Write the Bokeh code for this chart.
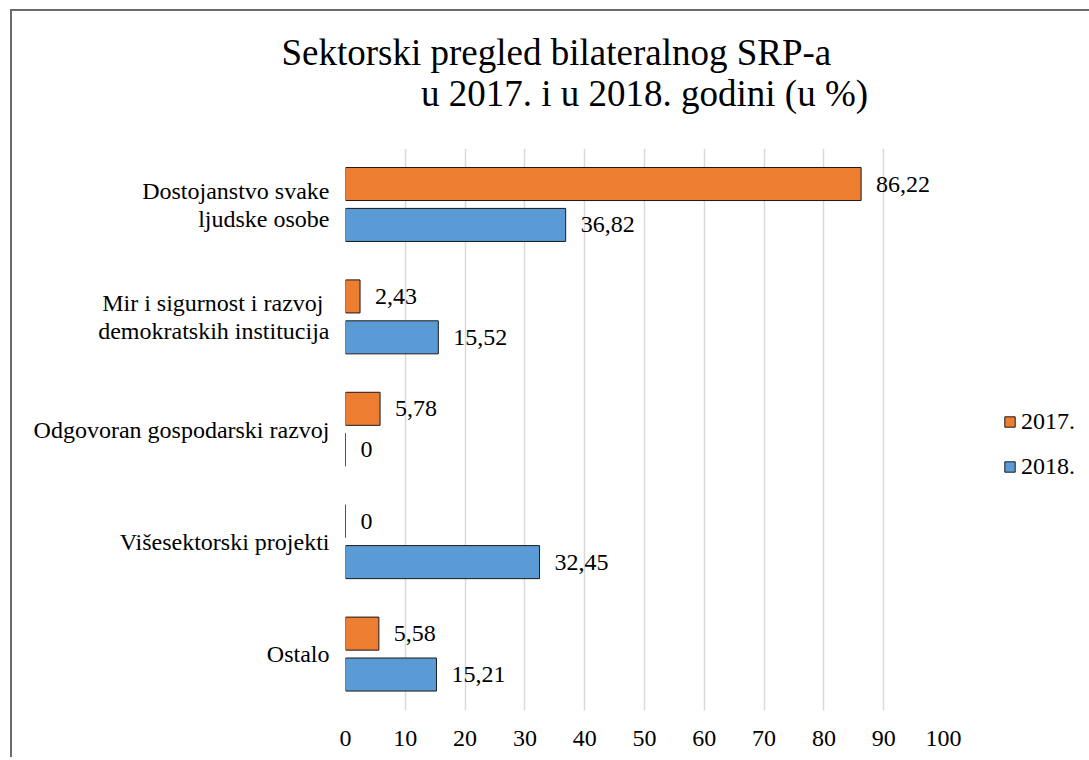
from bokeh.plotting import figure
from bokeh.models import (ColumnDataSource, FactorRange, Legend, LegendItem, LabelSet, Title,
                          FixedTicker, LinearAxis)
from bokeh.core.properties import value
from bokeh.transform import dodge
from bokeh.embed import file_html
from bokeh.resources import INLINE

categories = ["Dostojanstvo svake\nljudske osobe",
              "Mir i sigurnost i razvoj \ndemokratskih institucija",
              "Odgovoran gospodarski razvoj",
              "Višesektorski projekti",
              "Ostalo"]
values_2017 = [86.22, 2.43, 5.78, 0, 5.58]
values_2018 = [36.82, 15.52, 0, 32.45, 15.21]
series_names = ["2017.", "2018."]
x_ticks = [0, 10, 20, 30, 40, 50, 60, 70, 80, 90, 100]
title_lines = ["Sektorski pregled bilateralnog SRP-a", "u 2017. i u 2018. godini (u %)"]

FONT = "Liberation Serif"
ORANGE = "#ED7D31"
BLUE = "#5B9BD5"


def fmt(v):
    return ("%g" % v).replace(".", ",")


src = ColumnDataSource(dict(
    cat=categories,
    v2017=values_2017,
    v2018=values_2018,
    t2017=[fmt(v) for v in values_2017],
    t2018=[fmt(v) for v in values_2018],
))

p = figure(y_range=FactorRange(*reversed(categories), range_padding=0),
           x_range=(0, 100),
           frame_width=598, frame_height=562,
           min_border_left=333, min_border_top=137, min_border_bottom=47,
           min_border_right=144,
           output_backend="svg", toolbar_location=None)
p.margin = (9, 0, 0, 10)
p.styles = {"border-left": "2px solid #6b6b6b", "border-top": "2px solid #6b6b6b"}
p.outline_line_color = None
p.background_fill_color = "white"
p.border_fill_color = "white"

r1 = p.hbar(y=dodge("cat", 0.184, range=p.y_range), left=0, right="v2017", height=0.294,
            source=src, fill_color=ORANGE, line_color="#1a1a1a", line_width=1)
r2 = p.hbar(y=dodge("cat", -0.18, range=p.y_range), left=0, right="v2018", height=0.294,
            source=src, fill_color=BLUE, line_color="#1a1a1a", line_width=1)

for col, txt, off in (("v2017", "t2017", 0.184), ("v2018", "t2018", -0.18)):
    ls = LabelSet(x=col, y=dodge("cat", off, range=p.y_range), text=txt, source=src,
                  x_offset=15, text_baseline="middle", text_align="left",
                  text_font=value(FONT), text_font_size=value("24px"),
                  text_color="#000000")
    p.add_layout(ls)

p.xaxis.ticker = FixedTicker(ticks=x_ticks)
p.xaxis.axis_line_color = None
p.xaxis.major_tick_line_color = None
p.xaxis.minor_tick_line_color = None
p.xaxis.major_label_text_font = FONT
p.xaxis.major_label_text_font_size = "24px"
p.xaxis.major_label_text_color = "#000000"
p.xaxis.major_label_standoff = 14

p.yaxis.axis_line_color = None
p.yaxis.major_tick_line_color = None
p.yaxis.minor_tick_line_color = None
p.yaxis.major_label_text_font = FONT
p.yaxis.major_label_text_font_size = "24px"
p.yaxis.major_label_text_color = "#000000"
p.yaxis.major_label_text_line_height = 1.09
p.yaxis.major_label_standoff = 10

p.xgrid.grid_line_color = "#d9d9d9"
p.xgrid.grid_line_width = 1.5
p.xgrid.ticker = FixedTicker(ticks=x_ticks)
p.ygrid.grid_line_color = None

# second title line: label of an empty axis placed above the frame
top_axis = LinearAxis(ticker=FixedTicker(ticks=[]), axis_label=title_lines[1],
                      axis_label_standoff=35, axis_label_text_font=FONT,
                      axis_label_text_font_size="37px", axis_label_text_font_style="normal",
                      axis_label_text_color="#000000",
                      axis_line_color=None, major_tick_line_color=None,
                      minor_tick_line_color=None, major_tick_out=0, major_tick_in=0,
                      minor_tick_out=0, minor_tick_in=0, major_label_standoff=0)
p.add_layout(top_axis, "above")

# first title line
p.add_layout(Title(text=title_lines[0], align="left", offset=-64, standoff=-6,
                   text_font=FONT, text_font_size="37px", text_font_style="normal",
                   text_color="#000000"), "above")

legend = Legend(items=[LegendItem(label=series_names[0], renderers=[r1]),
                       LegendItem(label=series_names[1], renderers=[r2])],
                location=(60, 230), orientation="vertical")
legend.border_line_color = None
legend.background_fill_alpha = 0
legend.label_text_font = FONT
legend.label_text_font_size = "24px"
legend.label_text_color = "#000000"
legend.glyph_width = 13
legend.glyph_height = 13
legend.label_standoff = 5
legend.label_height = 24
legend.spacing = 18
legend.padding = 0
legend.margin = 0
p.add_layout(legend, "right")

open("out.html", "w").write(file_html(p, INLINE))
